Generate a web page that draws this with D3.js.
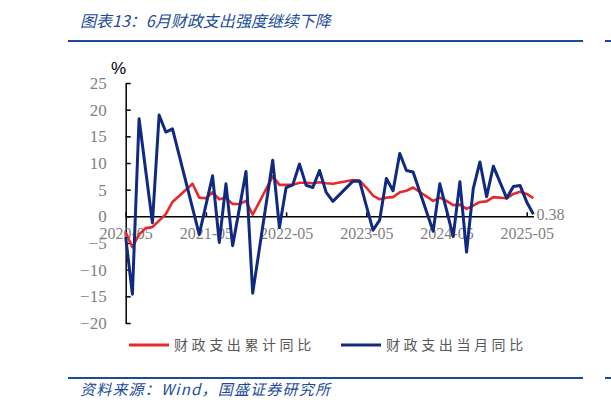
<!DOCTYPE html>
<html>
<head>
<meta charset="utf-8">
<script src="https://cdn.jsdelivr.net/npm/d3@7"></script>
<style>
  body { margin: 0; background: #fff; }
  svg { display: block; }
</style>
</head>
<body>
<div id="chart-area"></div>
<script>
// months shown on the axis, 2020-05 .. 2025-06
var months = [];
for (var yr = 2020; yr <= 2025; yr++) {
  for (var m = 1; m <= 12; m++) {
    if (yr == 2020 && m < 5) continue;
    if (yr == 2025 && m > 6) continue;
    months.push(yr + "-" + (m < 10 ? "0" + m : m));
  }
}

// 财政支出累计同比 (%), null = no value that month
var cumYoy = [
  -3.0, -5.8, -3.4, -2.2, -2.0, -0.8, 0.4, 2.7,
  null, null, 6.1, 3.5, 3.4, 4.5, 3.2, 3.5, 2.3, 2.3, 2.9, 0.3,
  null, null, 7.5, 5.9, 5.9, 5.9, 6.3, 6.3, 6.2, 6.4, 6.2, 6.1,
  null, null, 6.8, 6.7, 5.4, 3.9, 3.2, 3.5, 3.6, 4.5, 4.8, 5.4,
  null, null, 2.9, 3.5, 2.9, 2.1, 2.2, 1.4, 2.0, 2.7, 2.8, 3.6,
  null, 3.4, 4.2, 4.6, 4.2, 3.4
];

// 财政支出当月同比 (%)
var monYoy = [
  -3.9, -14.6, 18.3, 8.5, -1.2, 19.0, 15.8, 16.4,
  null, null, null, -3.4, 2.1, 7.6, -4.9, 6.1, -5.5, 1.4, 8.4, -14.4,
  null, null, 10.5, -2.1, 5.4, 5.9, 9.8, 5.8, 5.4, 8.6, 4.5, 2.8,
  null, null, 6.6, 6.6, 2.0, -2.6, -0.7, 7.1, 4.8, 11.8, 8.6, 8.3,
  null, null, -2.8, 6.1, 1.2, -3.8, 6.5, -6.7, 5.2, 10.2, 3.7, 9.4,
  null, 3.4, 5.6, 5.8, 2.7, 0.38
];

var yTicks = [25, 20, 15, 10, 5, 0, -5, -10, -15, -20];
var xTicks = ["2020-05", "2021-05", "2022-05", "2023-05", "2024-05", "2025-05"];

var seriesNames = ["财政支出累计同比", "财政支出当月同比"];
var colors = ["#e8292b", "#0f2a80"];

var W = 611, H = 410;
var svg = d3.select("#chart-area").append("svg")
    .attr("width", W).attr("height", H);

var blue = "#1c4b9b";

// title + rules
svg.append("text")
    .attr("x", 80).attr("y", 27)
    .attr("font-family", "Noto Sans CJK SC")
    .attr("font-size", "16px")
    .attr("font-style", "italic")
    .attr("fill", blue)
    .text("图表13：6月财政支出强度继续下降");

[41, 378].forEach(function (yy) {
  svg.append("line").attr("x1", 68).attr("x2", 583).attr("y1", yy).attr("y2", yy)
      .attr("stroke", blue).attr("stroke-width", 2);
  svg.append("line").attr("x1", 605).attr("x2", 611).attr("y1", yy).attr("y2", yy)
      .attr("stroke", blue).attr("stroke-width", 2);
});

svg.append("text")
    .attr("x", 80).attr("y", 395)
    .attr("font-family", "Noto Sans CJK SC")
    .attr("font-size", "15px")
    .attr("font-style", "italic")
    .attr("letter-spacing", "1.2px")
    .attr("fill", blue)
    .text("资料来源：Wind，国盛证券研究所");

// scales
var x = d3.scaleLinear()
    .domain([0, months.length - 1])
    .range([125.7, 533.4]);

var y = d3.scaleLinear()
    .domain([-20, 25])
    .range([323, 83]);

// Y axis
var yAxis = svg.append("g")
    .attr("transform", "translate(" + x(0) + ",0)")
    .call(d3.axisLeft(y).tickValues(yTicks).tickSizeInner(-5).tickSizeOuter(0).tickPadding(19));
yAxis.selectAll("path, line").attr("stroke", "#000").attr("stroke-width", 1.5);
yAxis.selectAll("text")
    .attr("font-family", "Liberation Serif")
    .attr("font-size", "17px")
    .attr("fill", "#7f7f7f");

// X axis at zero
var xAxis = svg.append("g")
    .attr("transform", "translate(0," + y(0) + ")")
    .call(d3.axisBottom(x)
        .tickValues(xTicks.map(function (d) { return months.indexOf(d); }))
        .tickFormat(function (i) { return months[i]; })
        .tickSizeInner(-4).tickSizeOuter(0).tickPadding(11));
xAxis.selectAll("path, line").attr("stroke", "#000").attr("stroke-width", 1.5);
xAxis.selectAll("text")
    .attr("font-family", "Liberation Serif")
    .attr("font-size", "16px")
    .attr("fill", "#7f7f7f");

// % unit
svg.append("text")
    .attr("x", 111).attr("y", 74)
    .attr("font-family", "Liberation Sans")
    .attr("font-size", "17px")
    .attr("fill", "#000")
    .text("%");

// lines (gaps are bridged, as in the source chart)
var line = d3.line()
    .x(function (d) { return x(d[0]); })
    .y(function (d) { return y(d[1]); });

[cumYoy, monYoy].forEach(function (vals, k) {
  var pts = vals.map(function (v, i) { return [i, v]; })
      .filter(function (d) { return d[1] !== null; });
  svg.append("path")
      .datum(pts)
      .attr("fill", "none")
      .attr("stroke", colors[k])
      .attr("stroke-width", k == 0 ? 2.6 : 3)
      .attr("stroke-linejoin", "round")
      .attr("d", line);
});

// last value label
var last = monYoy.length - 1;
svg.append("text")
    .attr("x", x(last) + 3).attr("y", y(monYoy[last]))
    .attr("dy", "0.35em")
    .attr("font-family", "Liberation Serif")
    .attr("font-size", "16px")
    .attr("fill", "#7f7f7f")
    .text(monYoy[last]);

// legend
var legX = [129, 341];
seriesNames.forEach(function (name, k) {
  svg.append("line")
      .attr("x1", legX[k]).attr("x2", legX[k] + 40)
      .attr("y1", 345).attr("y2", 345)
      .attr("stroke", colors[k]).attr("stroke-width", 3);
  svg.append("text")
      .attr("x", legX[k] + 45).attr("y", 345)
      .attr("dy", "0.35em")
      .attr("font-family", "Noto Sans CJK SC")
      .attr("font-size", "14px")
      .attr("letter-spacing", "3.6px")
      .attr("fill", "#595959")
      .text(name);
});
</script>
</body>
</html>
